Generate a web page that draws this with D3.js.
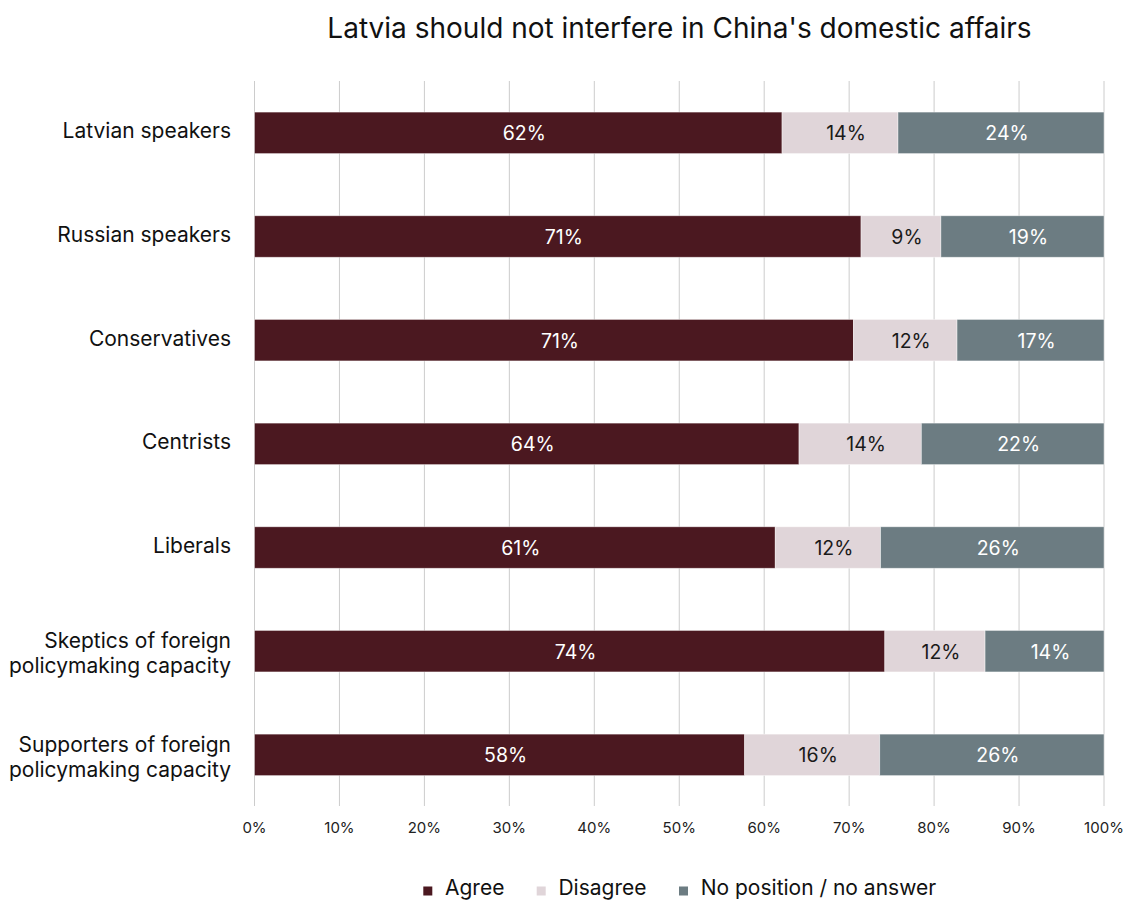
<!DOCTYPE html>
<html><head><meta charset="utf-8">
<script src="https://cdn.jsdelivr.net/npm/d3@7"></script>
<style>body{margin:0;background:#fff;font-family:Inter,"Noto Sans",sans-serif;}</style>
</head><body><svg id="c" width="1132" height="900"></svg>
<script>
const categories = ["Latvian speakers","Russian speakers","Conservatives","Centrists","Liberals","Skeptics of foreign policymaking capacity","Supporters of foreign policymaking capacity"];
const categoryLines = [["Latvian speakers"],["Russian speakers"],["Conservatives"],["Centrists"],["Liberals"],["Skeptics of foreign","policymaking capacity"],["Supporters of foreign","policymaking capacity"]];
const seriesNames = ["Agree","Disagree","No position / no answer"];
const agree =    [62.1, 71.4, 70.5, 64.1, 61.3, 74.2, 57.7];
const disagree = [13.65, 9.4, 12.2, 14.4, 12.4, 11.8, 15.9];
const noPos =    [24.25, 19.2, 17.3, 21.5, 26.3, 14.0, 26.4];
const agreeLabels =    ["62%","71%","71%","64%","61%","74%","58%"];
const disagreeLabels = ["14%","9%","12%","14%","12%","12%","16%"];
const noPosLabels =    ["24%","19%","17%","22%","26%","14%","26%"];
const xTicks = [0,10,20,30,40,50,60,70,80,90,100];
const colors = ["#4b1820","#e0d5d9","#6c7c82"];
const textColors = ["#ffffff","#1a1a1a","#ffffff"];

const svg = d3.select("#c");
const x = d3.scaleLinear().domain([0,100]).range([254.5,1104]);
const y = d3.scaleBand().domain(categories).range([81,806.7]).paddingInner(0.6).paddingOuter(0.3);

// gridlines
svg.append("g").selectAll("line").data(xTicks).join("line")
  .attr("x1",d=>x(d)).attr("x2",d=>x(d)).attr("y1",81).attr("y2",806)
  .attr("stroke","#cccccc").attr("stroke-width",1);

// x tick labels
svg.append("g").selectAll("text").data(xTicks).join("text")
  .attr("x",d=>x(d)).attr("y",832.5).attr("text-anchor","middle")
  .attr("font-size",15).attr("fill","#222").text(d=>d+"%");

const series = [agree,disagree,noPos];
const labels = [agreeLabels,disagreeLabels,noPosLabels];
const rows = categories.map((c,i)=>{
  let acc=0;
  return series.map((s,k)=>{const seg={cat:c,k,x0:acc,x1:acc+s[i],label:labels[k][i]};acc+=s[i];return seg;});
});
const segs = rows.flat();

svg.append("g").selectAll("rect").data(segs).join("rect")
  .attr("x",d=>x(d.x0)).attr("width",d=>x(d.x1)-x(d.x0))
  .attr("y",d=>y(d.cat)).attr("height",y.bandwidth())
  .attr("fill",d=>colors[d.k]).attr("stroke","rgba(255,255,255,0.5)").attr("stroke-width",0.8);

svg.append("g").selectAll("text").data(segs).join("text")
  .attr("x",d=>(x(d.x0)+x(d.x1))/2).attr("y",d=>y(d.cat)+y.bandwidth()/2)
  .attr("dx",6).attr("dy","0.38em").attr("text-anchor","middle").attr("font-size",19.5)
  .attr("fill",d=>textColors[d.k]).text(d=>d.label);

// category labels
const lh = 25;
const cl = svg.append("g").selectAll("text").data(categories).join("text")
  .attr("text-anchor","end").attr("font-size",21).attr("fill","#111")
  .attr("x",231).attr("y",(d)=>y(d)+y.bandwidth()/2);
cl.each(function(d,i){
  const lines = categoryLines[i];
  const t = d3.select(this);
  const first = 7.35 - 2 - (lines.length-1)*lh/2 + (lines.length>1 ? 4 : 0);
  lines.forEach((ln,j)=>{
    t.append("tspan").attr("x",231)
     .attr("dy", j===0 ? first : lh)
     .text(ln);
  });
});

// title
svg.append("text").attr("x",679.5).attr("y",38).attr("text-anchor","middle")
  .attr("font-size",28).attr("fill","#111").text("Latvia should not interfere in China's domestic affairs");

// legend
const legX = [423.3,536.7,679];
const lg = svg.append("g").selectAll("g").data(seriesNames).join("g")
  .attr("transform",(d,i)=>`translate(${legX[i]},891)`);
lg.append("rect").attr("x",0).attr("y",-4.5).attr("width",9).attr("height",9).attr("fill",(d,i)=>colors[i]);
lg.append("text").attr("x",21.7).attr("y",4).attr("font-size",21).attr("fill","#111").text(d=>d);
</script></body></html>
